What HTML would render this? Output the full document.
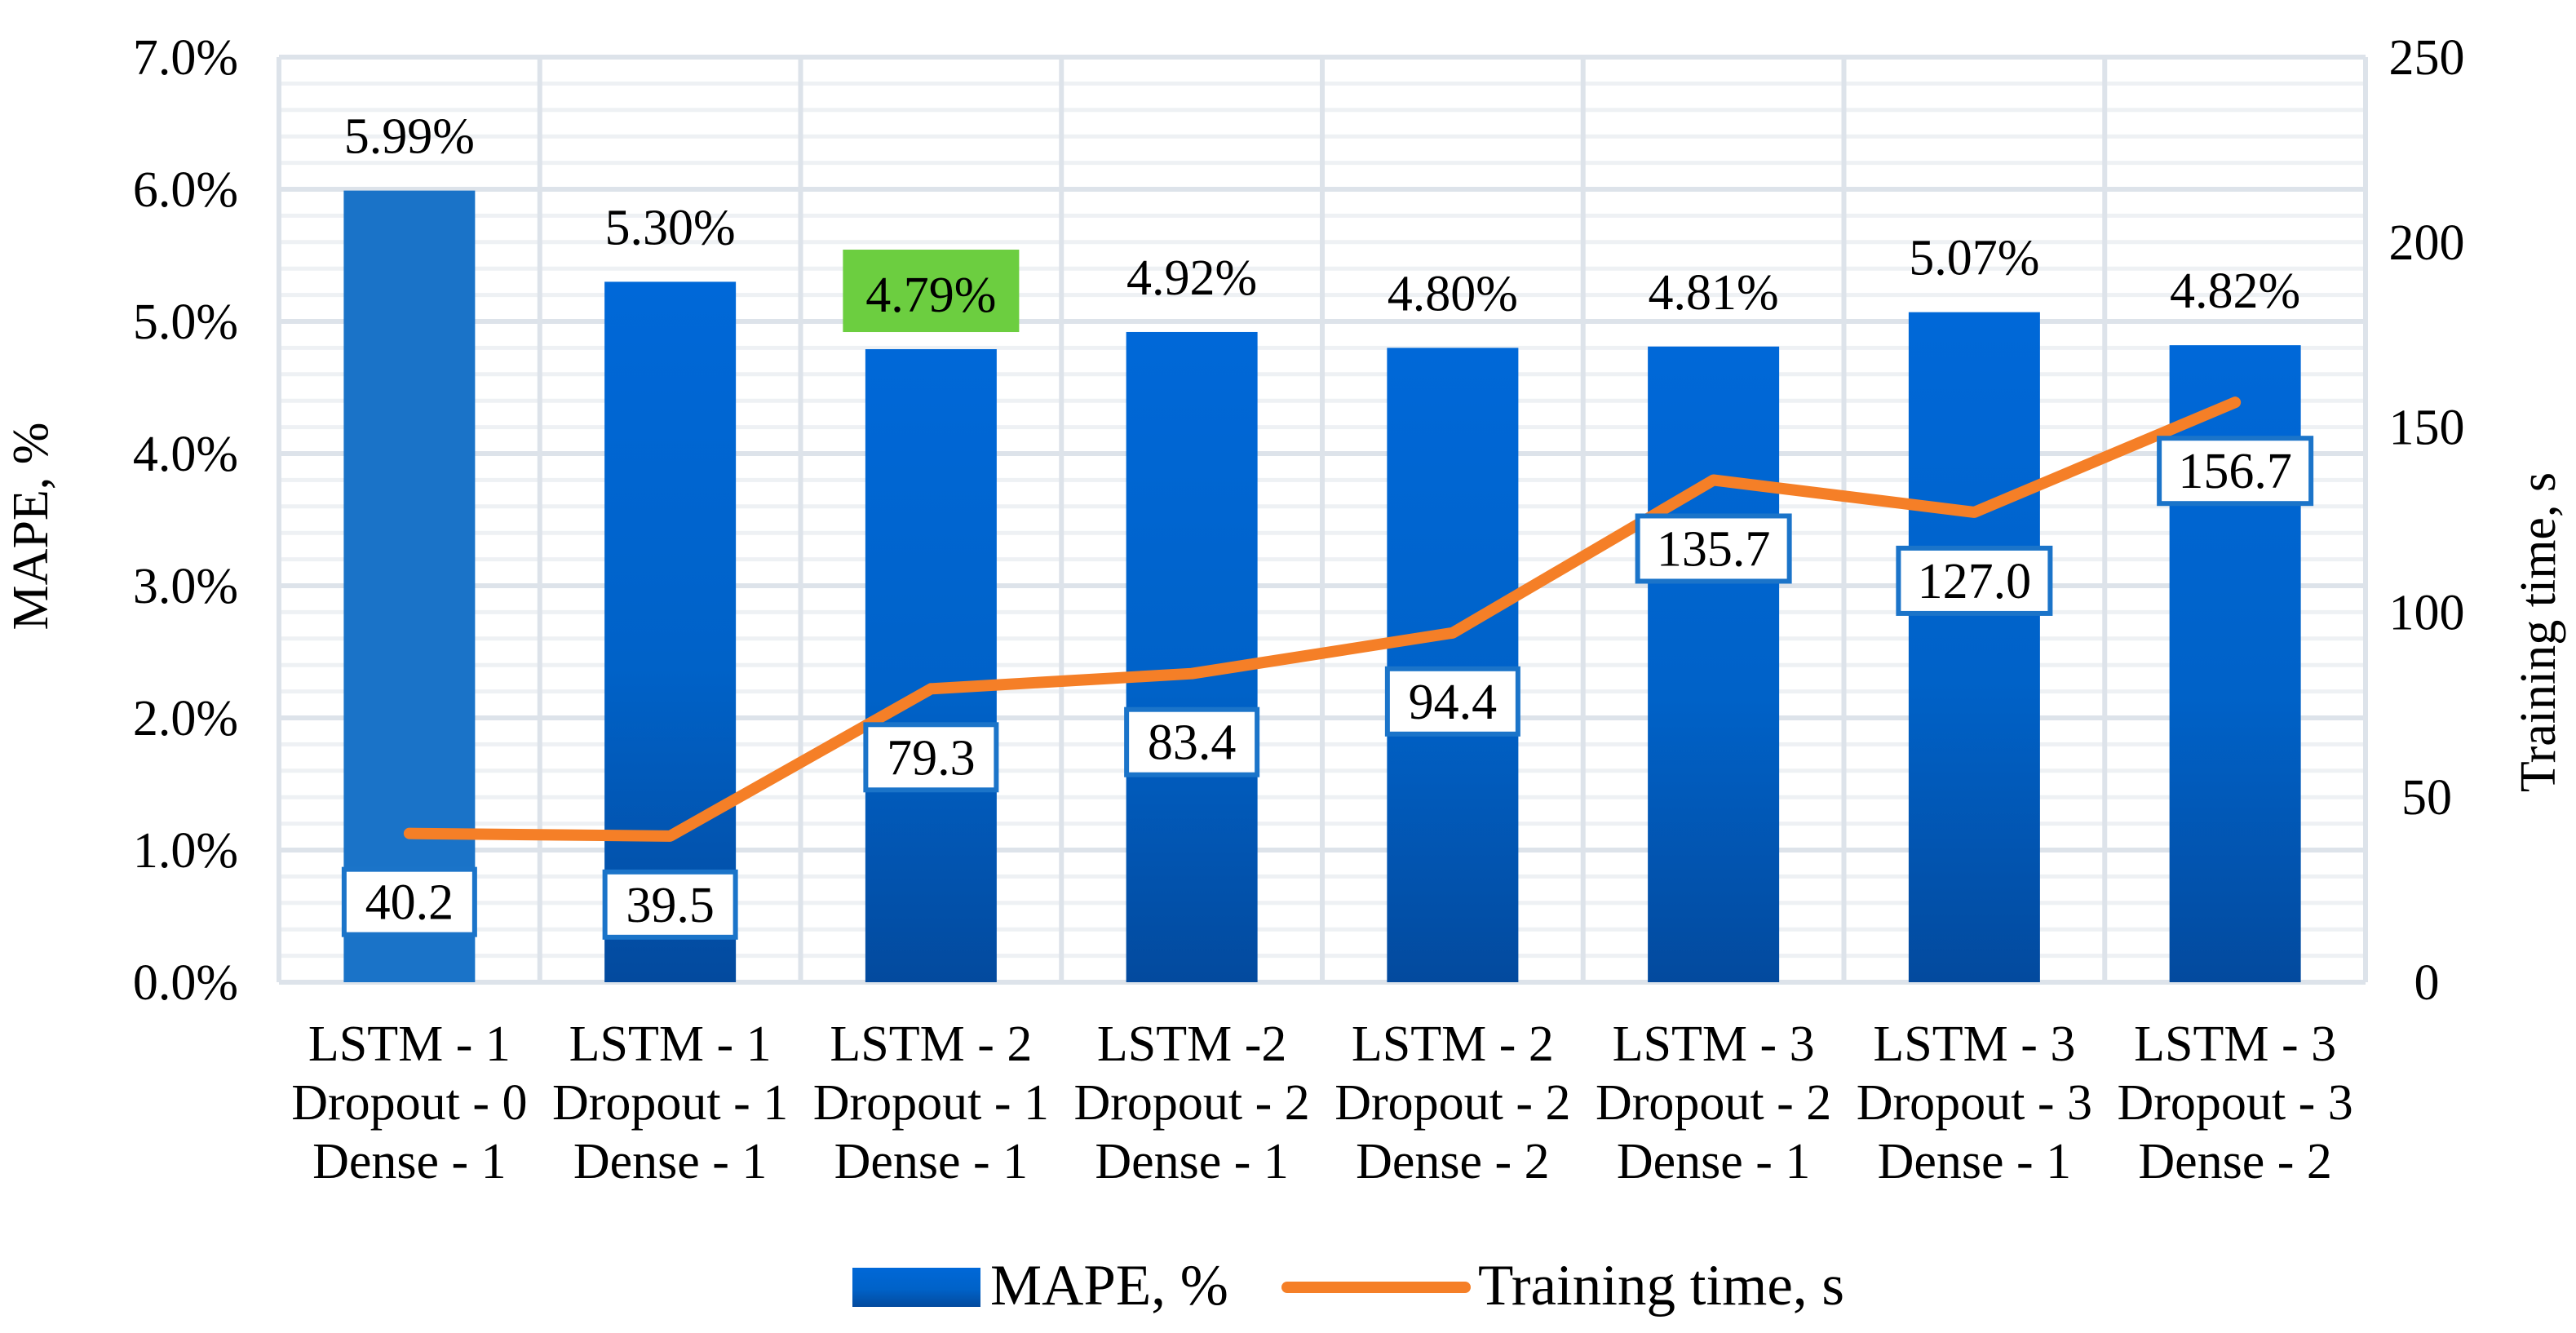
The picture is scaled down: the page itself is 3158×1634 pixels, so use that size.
<!DOCTYPE html>
<html><head><meta charset="utf-8"><style>
html,body{margin:0;padding:0;background:#fff;}
svg{display:block;font-family:"Liberation Serif",serif;}
</style></head><body>
<svg id="chart" width="3158" height="1634" viewBox="0 0 3158 1634" xmlns="http://www.w3.org/2000/svg">
<defs>
<linearGradient id="barGrad" x1="0" y1="0" x2="0" y2="1">
<stop offset="0" stop-color="#0068d8"/><stop offset="0.55" stop-color="#0062c8"/><stop offset="1" stop-color="#034a9e"/>
</linearGradient>
</defs>
<g id="grid"></g>
<g id="bars"></g>
<g id="line"></g>
<g id="labels"></g>
<text transform="translate(58,645) rotate(-90)" text-anchor="middle" font-size="62">MAPE, %</text>
<text transform="translate(3132,775) rotate(-90)" text-anchor="middle" font-size="62">Training time, s</text>
<g>
<rect x="1045" y="1554" width="157" height="48" fill="url(#barGrad)"/>
<text x="1214" y="1599" font-size="71">MAPE, %</text>
<line x1="1578" y1="1578" x2="1796" y2="1578" stroke="#f57f27" stroke-width="14" stroke-linecap="round"/>
<text x="1812" y="1599" font-size="71">Training time, s</text>
</g>
</svg>
<script>
const categories1 = ["LSTM - 1","LSTM - 1","LSTM - 2","LSTM -2","LSTM - 2","LSTM - 3","LSTM - 3","LSTM - 3"];
const categories2 = ["Dropout - 0","Dropout - 1","Dropout - 1","Dropout - 2","Dropout - 2","Dropout - 2","Dropout - 3","Dropout - 3"];
const categories3 = ["Dense - 1","Dense - 1","Dense - 1","Dense - 1","Dense - 2","Dense - 1","Dense - 1","Dense - 2"];
const mape = [5.99,5.30,4.79,4.92,4.80,4.81,5.07,4.82];
const trainTime = [40.2,39.5,79.3,83.4,94.4,135.7,127.0,156.7];
const leftTicks = [0,1,2,3,4,5,6,7];
const rightTicks = [0,50,100,150,200,250];
const bestIndex = 2;

const NS="http://www.w3.org/2000/svg";
const L=342,R=2900,T=70,B=1204;
const n=categories1.length, band=(R-L)/n;
const xC=i=>L+band*(i+0.5);
const yL=v=>B-(v/7)*(B-T);
const yR=v=>B-(v/250)*(B-T);
function mk(tag,attrs,parent){const e=document.createElementNS(NS,tag);for(const k in attrs)e.setAttribute(k,attrs[k]);parent.appendChild(e);return e;}
const grid=document.getElementById('grid'),bars=document.getElementById('bars'),line=document.getElementById('line'),labels=document.getElementById('labels');
for(let v=0;v<=7.0001;v+=0.2){const y=yL(v);const major=Math.abs(v-Math.round(v))<1e-6;
 const g=mk('line',{x1:L,x2:R,y1:y,y2:y,stroke:major?'#dde3ea':'#eef1f4','stroke-width':major?6:5},grid);
 
 }
for(let i=0;i<=n;i++){const x=L+band*i;const g=mk('line',{x1:x,x2:x,y1:T,y2:B,stroke:'#dde3ea','stroke-width':6},grid);
 
 }
leftTicks.forEach(v=>{const t=mk('text',{x:292,y:yL(v)+21,'text-anchor':'end','font-size':62},labels);t.textContent=v.toFixed(1)+'%';
 
 });
rightTicks.forEach(v=>{const t=mk('text',{x:2975,y:yR(v)+21,'text-anchor':'middle','font-size':62},labels);t.textContent=String(v);
 
 });
const bw=161;
mape.forEach((v,i)=>{const y=yL(v);
 const r=mk('rect',{x:xC(i)-bw/2,y:y,width:bw,height:B-y,fill:i===0?'#1a73c8':'url(#barGrad)'},bars);
 
 
 if(i===bestIndex){const bx=mk('rect',{x:xC(i)-108,y:y-122,width:216,height:101,fill:'#6cce40'},labels);
  
  }
 const t=mk('text',{x:xC(i),y:y-46,'text-anchor':'middle','font-size':62},labels);t.textContent=v.toFixed(2)+'%';
 
 
 [categories1,categories2,categories3].forEach((c,k)=>{const ct=mk('text',{x:xC(i),y:1300+k*72,'text-anchor':'middle','font-size':62},labels);ct.textContent=c[i];
  
  });
});
const pts=trainTime.map((v,i)=>xC(i)+','+yR(v)).join(' ');
const pl=mk('polyline',{points:pts,fill:'none',stroke:'#f57f27','stroke-width':14,'stroke-linejoin':'round','stroke-linecap':'round'},line);


trainTime.forEach((v,i)=>{const y=yR(v)+84;const s=v.toFixed(1);const w=s.length>4?186:160;
 const b=mk('rect',{x:xC(i)-w/2,y:y-40,width:w,height:80,fill:'#fff',stroke:'#1b74c9','stroke-width':6},labels);
 
 
 const t=mk('text',{x:xC(i),y:y+21,'text-anchor':'middle','font-size':62},labels);t.textContent=s;
 
 });
</script>
</body></html>
